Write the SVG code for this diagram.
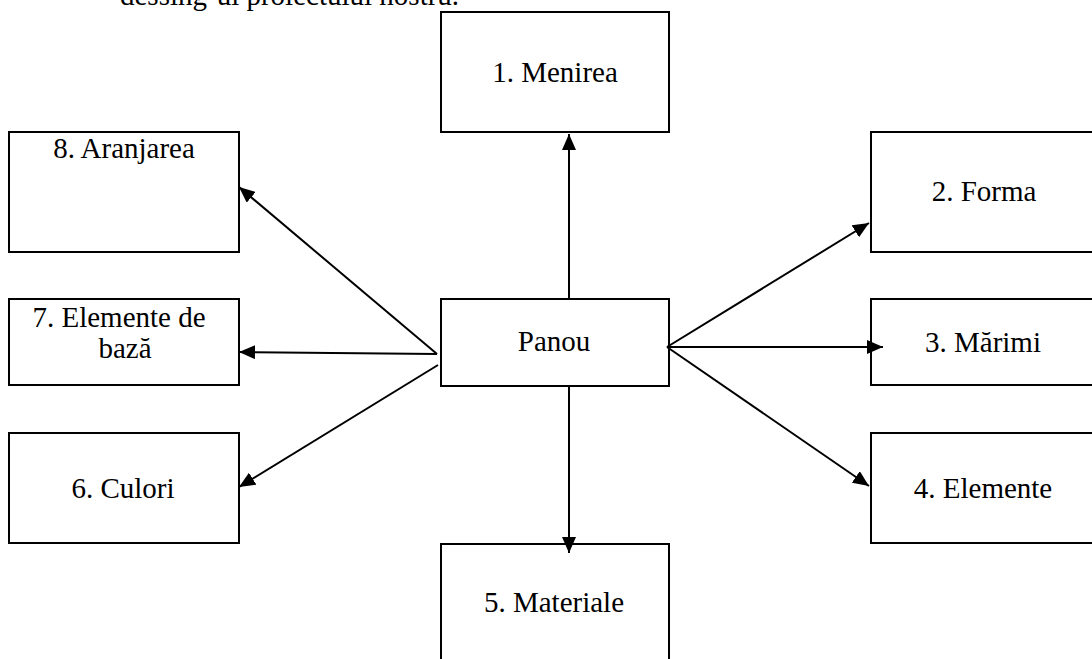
<svg xmlns="http://www.w3.org/2000/svg" width="1092" height="659" viewBox="0 0 1092 659">
  <style>
    .box { fill: #ffffff; stroke: #000000; stroke-width: 2; }
    .lbl { font-family: "Liberation Serif", "Times New Roman", serif; font-size: 29px; fill: #000000; text-anchor: middle; }
    .edge { stroke: #000000; stroke-width: 2; fill: none; marker-end: url(#arrow); }
  </style>
  <defs>
    <marker id="arrow" markerUnits="userSpaceOnUse" markerWidth="16" markerHeight="14" refX="16" refY="7" orient="auto">
      <path d="M0,0 L16,7 L0,14 Z" fill="#000000"/>
    </marker>
  </defs>
  <rect x="0" y="0" width="1092" height="659" fill="#ffffff"/>
  <text x="120" y="5" class="lbl" style="text-anchor:start">dessing-ul proiectului nostru.</text>

  <g id="n1"><rect class="box" x="441" y="12" width="228" height="120"/><text class="lbl" x="555" y="82">1. Menirea</text></g>
  <g id="n2"><rect class="box" x="871" y="132" width="240" height="120"/><text class="lbl" x="984" y="201">2. Forma</text></g>
  <g id="n3"><rect class="box" x="871" y="299" width="240" height="86"/><text class="lbl" x="983" y="352">3. Mărimi</text></g>
  <g id="n4"><rect class="box" x="871" y="433" width="240" height="110"/><text class="lbl" x="983" y="498">4. Elemente</text></g>
  <g id="n5"><rect class="box" x="441" y="544" width="228" height="130"/><text class="lbl" x="554" y="612">5. Materiale</text></g>
  <g id="n6"><rect class="box" x="9" y="433" width="230" height="110"/><text class="lbl" x="123" y="498">6. Culori</text></g>
  <g id="n7"><rect class="box" x="9" y="299" width="230" height="86"/><text class="lbl" x="119" y="327">7. Elemente de</text><text class="lbl" x="125" y="358">bază</text></g>
  <g id="n8"><rect class="box" x="9" y="132" width="230" height="120"/><text class="lbl" x="124" y="158">8. Aranjarea</text></g>
  <g id="panou"><rect class="box" x="441" y="299" width="228" height="87"/><text class="lbl" x="554" y="351">Panou</text></g>

  <g id="connectors">
    <line class="edge" x1="569" y1="299" x2="569" y2="134"/>
    <line class="edge" x1="667" y1="347" x2="869" y2="223"/>
    <line class="edge" x1="667" y1="347" x2="883" y2="347"/>
    <line class="edge" x1="667" y1="347" x2="869" y2="486"/>
    <line class="edge" x1="569" y1="386" x2="569" y2="553"/>
    <line class="edge" x1="438" y1="365" x2="239" y2="487"/>
    <line class="edge" x1="437" y1="354" x2="239" y2="352"/>
    <line class="edge" x1="437" y1="354" x2="239" y2="187"/>
  </g>
</svg>
